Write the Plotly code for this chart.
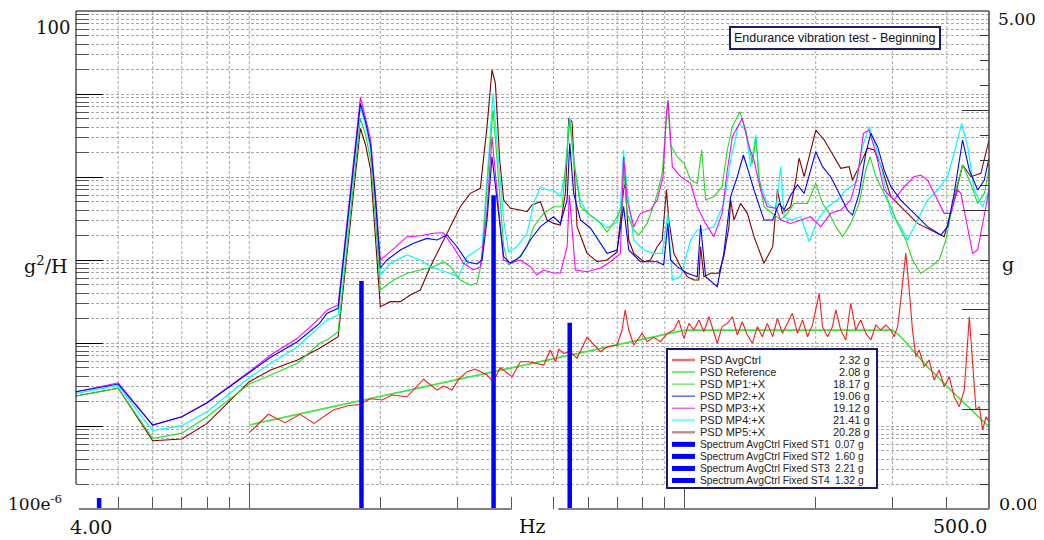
import math
import plotly.graph_objects as go

# ---------------- data ----------------
freq_low = [4, 5, 6, 7, 8, 10, 11.2, 12.9, 14.5, 15.1, 16, 18, 18.5, 19, 19.5, 20]

ctrl_freq = [10.0, 11.06, 12.08, 13.08, 14.08,
             15.6, 16.75, 17.97, 18.94, 20.18,
             21.28, 23.03, 25.15, 26.99, 27.95,
             29.22, 30.25, 31.63, 33.06, 35.16,
             36.3, 37.73, 40.14, 41.94, 43.8,
             47.45, 49.15, 50.5, 51.4, 52.75,
             54.64, 56.6, 59.69, 61.83, 64.04,
             66.35, 69.96, 71.8, 73.0, 74.4,
             76.4, 79.86, 82.0, 84.94, 87.98,
             91.2, 94.45, 96.9, 99.65, 102.3,
             105.0, 107.8, 110.7, 113.7, 116.7,
             118.8, 121.9, 125.3, 128.7, 132.1,
             135.6, 139.3, 143.1, 146.9, 150.8,
             154.8, 159.3, 163.3, 167.7, 172.2,
             176.8, 181.6, 186.5, 191.5, 196.6,
             203.7, 207.3, 213.0, 218.5, 222.4,
             228.3, 234.4, 240.7, 247.1, 253.8,
             260.6, 267.6, 274.9, 282.1, 289.8,
             297.5, 302.8, 308.3, 313.6, 319.2,
             322.0, 327.9, 333.6, 339.6, 345.6,
             354.8, 364.3, 374.1, 384.2, 394.5,
             405.1, 415.9, 427.2, 438.7, 450.6,
             458.5, 466.8, 475.1, 483.5, 492.2,
             500]
ctrl_psd = [0.00083, 0.001384, 0.001095, 0.001384, 0.001076,
            0.00156, 0.00174, 0.00183, 0.00213, 0.00206,
            0.00236, 0.00225, 0.00366, 0.00271, 0.00303,
            0.00271, 0.00366, 0.00451, 0.00486, 0.00412,
            0.00342, 0.00504, 0.00393, 0.00595, 0.00595,
            0.00543, 0.00823, 0.00595, 0.0084, 0.0075,
            0.00785, 0.00654, 0.0117, 0.00946, 0.00785,
            0.00902, 0.00946, 0.01434, 0.025, 0.01434,
            0.00946, 0.01308, 0.01037, 0.0117, 0.01037,
            0.01308, 0.01434, 0.0189, 0.01138, 0.01724,
            0.01434, 0.0189, 0.01368, 0.0207, 0.01308,
            0.00991, 0.01574, 0.01724, 0.0207, 0.01248,
            0.018, 0.01248, 0.00991, 0.01574, 0.0119,
            0.01724, 0.0119, 0.0198, 0.01308, 0.01724,
            0.0228, 0.01308, 0.0189, 0.0119, 0.0165,
            0.0397, 0.01574, 0.0119, 0.01574, 0.025,
            0.01434, 0.01087, 0.0301, 0.01434, 0.0189,
            0.01308, 0.01087, 0.0165, 0.01434, 0.0165,
            0.01434, 0.0119, 0.01574, 0.033, 0.0758,
            0.1215, 0.0435, 0.01434, 0.00684, 0.00823,
            0.00518, 0.00624, 0.00358, 0.00473, 0.00298,
            0.00393, 0.00225, 0.00171, 0.00271, 0.0207,
            0.00569, 0.00156, 0.00171, 0.000895, 0.001295,
            0.001126]

ref_freq = [10, 100, 300, 313.6, 361.2, 430.9, 500]
ref_psd = [0.00103, 0.0143, 0.0143, 0.0119, 0.00518, 0.00206, 0.00098]

mp1_freq = freq_low + [
    21.46, 23.03, 24.71, 26.51, 27.95,
    28.96, 30.53, 32.19, 33.35, 34.25,
    35.16, 36.3, 37.07, 38.4, 39.42,
    41.19, 43.45, 45.0, 47.45, 50.0,
    52.3, 54.45, 55.6, 57.61, 60.74,
    64.04, 66.35, 69.3, 71.8, 72.4,
    73.76, 76.4, 78.46, 82.0, 85.7,
    88.8, 90.35, 91.45, 92.8, 96.15,
    99.65, 103.2, 106.9, 109.4, 111.7,
    116.7, 121.9, 125.3, 128.7, 133.9,
    138.1, 143.1, 145.7, 148.2, 152.1,
    159.3, 166.2, 172.2, 178.4, 191.5,
    200.1, 207.3, 214.7, 222.4, 230.4,
    240.7, 251.6, 260.6, 266.6, 274.9,
    284.7, 297.5, 308.3, 322.0, 333.6,
    348.6, 367.6, 384.2, 398.0, 415.9,
    434.8, 450.6, 471.0, 487.8, 500]
mp1_psd = [0.0023, 0.00285, 0.00071, 0.000816, 0.001295, 0.0032, 0.00412, 0.00569,
           0.00991, 0.01087, 0.01368, 5.09, 3.21, 1.6, 0.303, 0.0435] + [
    0.0574, 0.0691, 0.0758, 0.0831, 0.0954,
    0.0831, 0.0574, 0.05, 0.0523, 0.1,
    0.764, 6.42, 1.6, 0.1446, 0.0871,
    0.1, 0.1446, 0.252, 0.365, 0.439,
    0.439, 4.86, 1.6, 0.439, 0.348,
    0.276, 0.2176, 0.303, 0.439, 1.331,
    0.365, 0.23, 0.2, 0.276, 0.528,
    1.107, 3.68, 8.47, 2.43, 1.755,
    1.459, 0.92, 0.839, 2.115, 0.528,
    0.579, 0.764, 2.115, 4.04, 6.12,
    3.68, 1.459, 2.93, 1.008, 0.439,
    0.365, 0.303, 0.365, 0.4815, 0.4815,
    0.839, 0.4815, 0.365, 0.252, 0.191,
    0.276, 0.4815, 1.214, 1.755, 1.008,
    0.697, 0.439, 0.276, 0.174, 0.1,
    0.0691, 0.0831, 0.1, 0.174, 0.579,
    1.395, 0.92, 0.4815, 0.636, 1.214]

mp2_freq = freq_low + [
    20.72, 22.23, 23.85, 25.6, 26.99,
    28.46, 30.0, 31.63, 33.35, 34.25,
    35.16, 36.1, 37.07, 38.4, 39.78,
    41.94, 44.22, 46.62, 50.0, 51.83,
    53.7, 54.45, 55.6, 57.61, 60.74,
    64.04, 66.35, 69.96, 72.4, 74.4,
    79.14, 86.47, 89.5, 91.45, 92.8,
    96.15, 101.4, 106.9, 108.8, 111.7,
    118.8, 123.0, 127.5, 132.1, 136.4,
    140.6, 144.3, 152.1, 159.3, 164.8,
    169.2, 175.2, 181.6, 188.1, 200.1,
    207.3, 216.5, 224.3, 236.5, 242.9,
    251.6, 260.6, 267.6, 277.4, 287.2,
    297.5, 313.6, 336.6, 361.2, 387.6,
    401.6, 415.9, 434.8, 450.6, 471.0,
    487.8, 500]
mp2_psd = [0.00259, 0.0032, 0.001028, 0.001295, 0.00191, 0.00447, 0.00673, 0.01037,
           0.01724, 0.0228, 0.0262, 7.72, 4.6, 2.43, 0.528, 0.0801] + [
    0.1, 0.132, 0.1587, 0.182, 0.174,
    0.2, 0.1446, 0.0954, 0.0895, 0.1,
    0.303, 1.755, 0.528, 0.1096, 0.0912,
    0.1096, 0.174, 0.252, 0.332, 0.276,
    0.528, 2.545, 0.636, 0.303, 0.243,
    0.1587, 0.1204, 0.132, 0.439, 0.132,
    0.0954, 0.0954, 0.0871, 0.276, 0.1,
    0.0831, 0.0691, 0.063, 0.264, 0.063,
    0.0477, 0.1204, 0.579, 1.008, 1.84,
    1.107, 0.697, 0.303, 0.303, 0.4815,
    0.4, 0.607, 0.801, 0.636, 2.018,
    1.331, 1.008, 0.697, 0.4, 0.348,
    0.636, 1.929, 3.36, 2.32, 1.214,
    0.764, 0.528, 0.365, 0.252, 0.2,
    0.252, 0.636, 2.79, 1.214, 0.697,
    0.92, 1.693]

mp3_freq = freq_low + [
    21.09, 23.03, 24.71, 26.47, 27.91,
    29.42, 31.02, 32.7, 33.94, 35.16,
    36.1, 37.07, 38.34, 39.78, 41.94,
    44.22, 45.77, 47.38, 49.94, 51.83,
    53.7, 54.35, 56.1, 59.69, 64.04,
    67.52, 71.19, 72.4, 73.76, 76.4,
    79.14, 83.46, 86.47, 89.2, 90.8,
    91.65, 93.67, 97.9, 103.2, 106.9,
    111.7, 116.7, 121.9, 125.3, 128.7,
    135.6, 140.6, 144.3, 149.4, 154.8,
    162.0, 166.2, 175.2, 184.8, 194.8,
    205.4, 216.5, 228.3, 240.7, 249.4,
    257.5, 265.2, 274.9, 287.2, 302.8,
    319.2, 336.6, 348.6, 361.2, 374.1,
    394.5, 408.6, 423.4, 430.9, 446.6,
    458.5, 471.0, 487.8, 500]
mp3_psd = [0.00259, 0.00332, 0.001028, 0.001295, 0.00191, 0.00451, 0.00717, 0.01138,
           0.0198, 0.025, 0.0287, 9.12, 5.13, 2.79, 0.607, 0.100] + [
    0.126, 0.191, 0.196, 0.21, 0.213,
    0.1446, 0.092, 0.0758, 0.0831, 0.4,
    3.06, 0.641, 0.1, 0.092, 0.1,
    0.0831, 0.066, 0.0758, 0.0697, 0.0697,
    0.1446, 0.607, 0.0758, 0.0723, 0.0801,
    0.0954, 0.1204, 1.755, 0.528, 0.252,
    0.365, 0.4, 0.528, 1.008, 5.85,
    8.24, 1.331, 1.008, 0.839, 0.439,
    0.276, 0.191, 0.365, 1.214, 3.06,
    5.09, 2.32, 1.6, 0.697, 0.439,
    0.42, 0.303, 0.276, 0.303, 0.332,
    0.252, 0.365, 0.4, 0.528, 1.008,
    3.36, 3.68, 1.929, 0.697, 0.528,
    0.764, 1.008, 1.057, 0.92, 0.636,
    0.365, 0.365, 0.697, 0.636, 0.252,
    0.1204, 0.132, 0.332, 0.697]

mp4_freq = freq_low + [
    21.09, 23.03, 24.71, 26.05, 27.47,
    28.96, 30.25, 31.63, 33.35, 34.25,
    35.16, 36.3, 37.07, 38.4, 39.42,
    41.19, 43.45, 45.0, 46.62, 48.3,
    50.0, 51.83, 53.22, 54.45, 55.6,
    57.61, 59.69, 62.93, 66.35, 69.96,
    71.19, 72.4, 73.76, 76.4, 80.55,
    84.94, 88.8, 91.45, 93.67, 97.9,
    103.2, 106.9, 110.7, 116.7, 123.0,
    127.5, 133.2, 138.1, 141.8, 145.7,
    148.2, 154.8, 162.0, 166.2, 169.2,
    175.2, 184.8, 193.2, 201.9, 213.0,
    224.3, 234.4, 247.1, 256.1, 265.2,
    274.9, 284.7, 297.5, 313.6, 325.0,
    336.6, 348.6, 361.2, 380.9, 401.6,
    419.7, 432.5, 446.6, 462.6, 483.5,
    500]
mp4_psd = [0.00247, 0.00306, 0.000878, 0.001008, 0.001488, 0.00384, 0.00569, 0.00902,
           0.01574, 0.0189, 0.0217, 6.97, 4.23, 2.115, 0.46, 0.066] + [
    0.0912, 0.1149, 0.1, 0.0831, 0.0758,
    0.0691, 0.063, 0.1096, 0.132, 0.1446,
    0.92, 10.19, 2.545, 0.303, 0.126,
    0.1446, 0.21, 0.4815, 0.764, 0.697,
    0.697, 0.579, 1.214, 5.32, 1.6,
    0.528, 0.365, 0.303, 0.243, 0.287,
    0.439, 2.115, 0.697, 0.174, 0.132,
    0.1204, 0.1204, 0.365, 0.0574, 0.063,
    0.174, 0.23, 0.23, 0.252, 0.4815,
    1.6, 4.43, 3.68, 1.331, 3.21,
    0.92, 0.4815, 0.4, 1.331, 0.332,
    0.303, 0.332, 0.166, 0.303, 0.439,
    0.528, 0.697, 0.839, 2.32, 4.04,
    2.32, 1.107, 0.365, 0.252, 0.174,
    0.252, 0.365, 0.528, 0.697, 1.008,
    2.32, 4.43, 2.32, 0.697, 0.439,
    0.697]

mp5_freq = freq_low + [
    20.35, 21.09, 22.23, 23.44, 24.71,
    26.05, 27.47, 28.96, 30.53, 32.19,
    33.94, 35.16, 36.1, 36.75, 37.6,
    38.4, 39.78, 41.94, 43.45, 44.62,
    46.62, 48.3, 50.0, 51.83, 53.22,
    54.18, 55.13, 56.6, 59.69, 62.93,
    66.35, 69.96, 72.4, 73.0, 74.4,
    76.4, 80.55, 83.46, 86.47, 88.8,
    90.8, 91.96, 94.45, 97.9, 101.4,
    105.0, 107.8, 108.8, 110.7, 114.7,
    119.8, 123.0, 126.4, 127.5, 129.8,
    134.4, 139.3, 144.3, 152.1, 159.3,
    163.3, 167.7, 175.2, 180.0, 183.2,
    188.1, 200.1, 209.2, 220.4, 228.3,
    238.6, 242.9, 253.8, 263.0, 272.4,
    282.1, 297.5, 319.2, 342.6, 367.6,
    394.5, 415.9, 434.8, 454.3, 479.0,
    500]
mp5_psd = [0.0023, 0.00285, 0.000665, 0.000697, 0.001076, 0.00342, 0.00473, 0.00624,
           0.00863, 0.00991, 0.0119, 3.86, 2.43, 1.214, 0.2, 0.0274] + [
    0.0287, 0.0315, 0.0315, 0.0379, 0.0435,
    0.0831, 0.1446, 0.252, 0.439, 0.636,
    0.73, 4.04, 19.5, 13.4, 1.6,
    0.528, 0.42, 0.4, 0.382, 0.46,
    0.504, 0.303, 0.276, 0.264, 0.636,
    5.09, 4.64, 0.252, 0.1204, 0.0954,
    0.1, 0.125, 0.697, 0.839, 0.174,
    0.1204, 0.0954, 0.1, 0.1446, 0.174,
    0.697, 0.303, 0.1204, 0.0831, 0.063,
    0.0574, 0.0574, 0.1446, 0.063, 0.0691,
    0.0691, 0.1096, 0.252, 0.528, 0.303,
    0.4815, 0.365, 0.191, 0.0912, 0.1446,
    0.697, 0.365, 0.439, 0.92, 1.693,
    1.008, 3.68, 2.79, 1.755, 1.272,
    1.331, 0.92, 1.459, 2.236, 2.115,
    1.395, 0.579, 0.4, 0.276, 0.23,
    0.191, 0.528, 1.395, 1.008, 1.107,
    2.79]

# fixed-sine spectrum lines (right axis, g peak)
st_freq = [4.52, 18.1, 36.4, 54.45]
st_peak = [0.11, 2.29, 3.15, 1.87]

legend_names = ["PSD AvgCtrl", "PSD Reference", "PSD MP1:+X", "PSD MP2:+X",
                "PSD MP3:+X", "PSD MP4:+X", "PSD MP5:+X",
                "Spectrum AvgCtrl Fixed ST1", "Spectrum AvgCtrl Fixed ST2",
                "Spectrum AvgCtrl Fixed ST3", "Spectrum AvgCtrl Fixed ST4"]
legend_values = ["2.32 g", "2.08 g", "18.17 g", "19.06 g", "19.12 g", "21.41 g",
                 "20.28 g", "0.07 g", "1.60 g", "2.21 g", "1.32 g"]
title_text = "Endurance vibration test - Beginning"

# ---------------- figure ----------------
W, H = 1044, 540
OFF = 8  # page body margin: screen px = figure px + OFF
# plot area in screen pixels: x 76..989, y 11..509
SX0, SX1, SY0, SY1 = 76, 989, 11, 509
L, R = SX0 - OFF, W - (SX1 - OFF)
T, B = SY0 - OFF, H - (SY1 - OFF)
PW, PH = W - L - R, H - T - B
XMIN, XMAX = math.log10(4), math.log10(500)
YMIN, YMAX = -4, 2


def pxx(x):
    return (x - SX0) / PW


def pxy(y):
    return (SY1 - y) / PH


def fx(f):
    return (math.log10(f) - XMIN) / (XMAX - XMIN)


def fy(v):
    return (math.log10(v) - YMIN) / (YMAX - YMIN)


fig = go.Figure()

series = [
    (mp5_freq, mp5_psd, "#800000", 1.1),
    (mp4_freq, mp4_psd, "#00ffff", 1.2),
    (mp1_freq, mp1_psd, "#22dd22", 1.1),
    (mp3_freq, mp3_psd, "#ff00ff", 1.1),
    (mp2_freq, mp2_psd, "#0000ff", 1.1),
    (ref_freq, ref_psd, "#3ce63c", 1.6),
    (ctrl_freq, ctrl_psd, "#ff1a1a", 1.1),
]
for f, v, c, w in series:
    n = min(len(f), len(v))
    fig.add_trace(go.Scatter(x=f[:n], y=v[:n], mode="lines",
                             line=dict(color=c, width=w),
                             hoverinfo="skip", showlegend=False))

bx, by = [], []
for f, p in zip(st_freq, st_peak):
    bx += [f, f, None]
    by += [0, p, None]
fig.add_trace(go.Scatter(x=bx, y=by, yaxis="y2", mode="lines",
                         line=dict(color="#0000ff", width=4.5),
                         hoverinfo="skip", showlegend=False))

GRID = "#a8a8a8"
DASH = "3px,2px"

fig.update_layout(
    width=W, height=H,
    margin=dict(l=L, r=R, t=T, b=B, pad=0),
    paper_bgcolor="white", plot_bgcolor="white",
    showlegend=False, hovermode=False,
    xaxis=dict(type="log", range=[XMIN, XMAX], showgrid=False, zeroline=False,
               showline=False, showticklabels=False, dtick=1,
               ticks="inside", ticklen=26, tickcolor="#555", tickwidth=1,
               minor=dict(dtick="D1", ticks="inside", ticklen=12,
                          tickcolor="#555", tickwidth=1, showgrid=False)),
    yaxis=dict(type="log", range=[YMIN, YMAX], showgrid=True, gridcolor=GRID,
               griddash=DASH, gridwidth=1, zeroline=False, showline=False,
               showticklabels=False, dtick=1, ticks="inside", ticklen=27,
               tickcolor="#000", tickwidth=1,
               minor=dict(dtick="D1", ticks="inside", ticklen=13,
                          tickcolor="#555", tickwidth=1, showgrid=True,
                          gridcolor=GRID, griddash=DASH, gridwidth=1)),
    yaxis2=dict(overlaying="y", side="right", anchor="x", range=[0, 5],
                showgrid=False, zeroline=False, showline=False,
                showticklabels=False, tick0=0, dtick=1, ticks="inside",
                ticklen=27, tickcolor="#333", tickwidth=1,
                minor=dict(dtick=0.25, ticks="inside", ticklen=9,
                           tickcolor="#333", tickwidth=1, showgrid=False)),
)

shapes = []
# vertical grid lines (stop at the lowest horizontal grid line)
grid_x = [m * 10 ** e for e in (0, 1, 2) for m in range(1, 10) if 4 < m * 10 ** e < 500]
for g in grid_x:
    shapes.append(dict(type="line", xref="paper", yref="paper", x0=fx(g), x1=fx(g),
                       y0=fy(2e-4), y1=1, layer="below",
                       line=dict(color=GRID, width=1, dash=DASH)))
# frame
shapes.append(dict(type="line", xref="paper", yref="paper", x0=0, x1=0,
                   y0=fy(2e-4), y1=1, line=dict(color="#000", width=1)))
shapes.append(dict(type="line", xref="paper", yref="paper", x0=0, x1=1,
                   y0=1, y1=1, line=dict(color="#000", width=1)))
shapes.append(dict(type="line", xref="paper", yref="paper", x0=1, x1=1,
                   y0=0, y1=1, line=dict(color="#444", width=1.5)))
shapes.append(dict(type="line", xref="paper", yref="paper", x0=pxx(79), x1=pxx(511.7),
                   y0=0, y1=0, line=dict(color="#808080", width=2)))
shapes.append(dict(type="line", xref="paper", yref="paper", x0=pxx(558.3), x1=1,
                   y0=0, y1=0, line=dict(color="#808080", width=2)))

# legend box
shapes.append(dict(type="rect", xref="paper", yref="paper",
                   x0=pxx(667), x1=pxx(877), y0=pxy(488), y1=pxy(349),
                   fillcolor="white", line=dict(color="#1c1c6c", width=2), layer="above"))

leg_style = [("#f07070", 2.5), ("#70f070", 2), ("#30e030", 1), ("#2020d0", 1),
             ("#e020e0", 1), ("#80ffff", 2.5), ("#c09090", 2.5),
             ("#0000ff", 5), ("#0000ff", 5), ("#0000ff", 5), ("#0000ff", 5)]
annotations = []
for i, (name, val) in enumerate(zip(legend_names, legend_values)):
    yc = 360 + 12.05 * i
    col, lw = leg_style[i]
    shapes.append(dict(type="line", xref="paper", yref="paper",
                       x0=pxx(672), x1=pxx(695), y0=pxy(yc), y1=pxy(yc),
                       line=dict(color=col, width=lw), layer="above"))
    fs = 11 if i < 7 else 10.3
    vx = 871.5 if i < 7 else 866
    annotations.append(dict(xref="paper", yref="paper", x=pxx(698), y=pxy(yc),
                            text=name, showarrow=False, xanchor="left", yanchor="middle",
                            font=dict(family="Liberation Sans, Arial", size=fs, color="#222")))
    annotations.append(dict(xref="paper", yref="paper", x=pxx(vx), y=pxy(yc),
                            text=val, showarrow=False, xanchor="right", yanchor="middle",
                            font=dict(family="Liberation Sans, Arial", size=fs, color="#222")))

# title box
annotations.append(dict(xref="paper", yref="paper", x=pxx(835), y=pxy(37.7),
                        text=title_text, showarrow=False, xanchor="center", yanchor="middle",
                        font=dict(family="Liberation Sans, Arial", size=12.5, color="#111"),
                        bgcolor="white", bordercolor="#1c1c6c", borderwidth=2, borderpad=3))

SERIF = "DejaVu Serif"
axis_texts = [
    ("100", 72, 28, "right", 18),
    ("g<sup>2</sup>/H", 70, 265, "right", 19),
    ("100e<sup>-6</sup>", 64, 503, "right", 17),
    ("4.00", 91, 527, "center", 19),
    ("Hz", 532, 526, "center", 19),
    ("500.0", 960, 526, "center", 19),
    ("5.00", 996, 19, "left", 17),
    ("g", 1000, 264, "left", 19),
    ("0.00", 997, 504, "left", 17.5),
]
for txt, x, y, anc, fs in axis_texts:
    annotations.append(dict(xref="paper", yref="paper", x=pxx(x), y=pxy(y), text=txt,
                            showarrow=False, xanchor=anc, yanchor="middle",
                            font=dict(family=SERIF, size=fs, color="#111")))

fig.update_layout(shapes=shapes, annotations=annotations)
fig.write_html("out.html")
